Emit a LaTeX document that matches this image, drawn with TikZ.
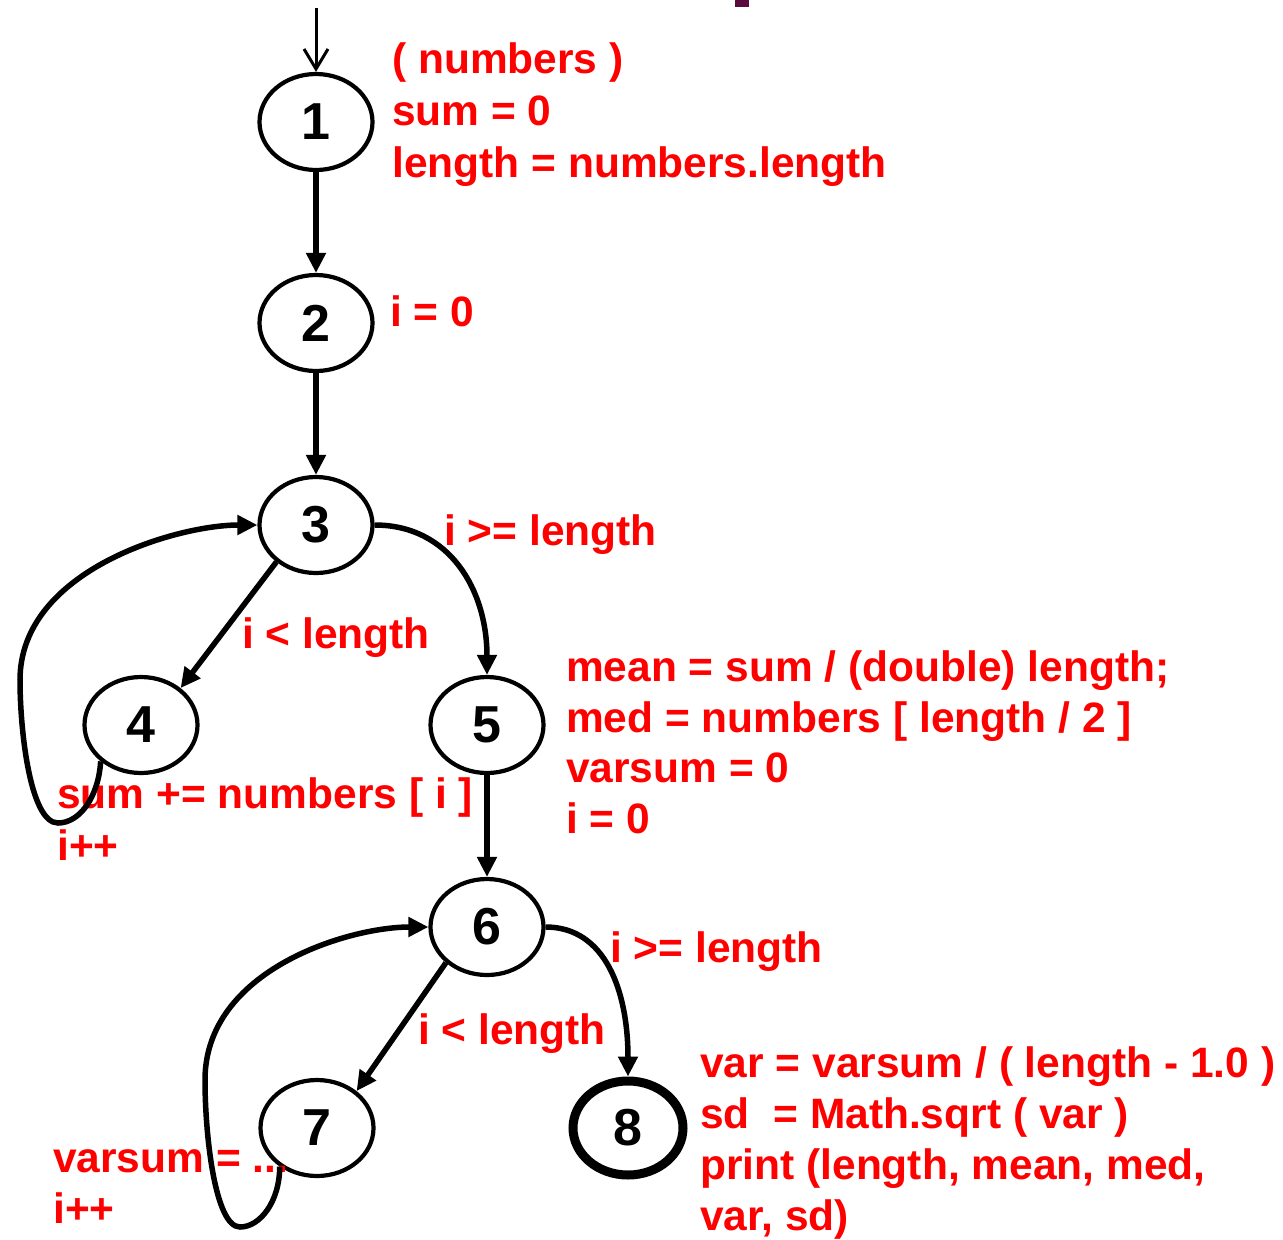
\documentclass[tikz,border=0pt]{standalone}
\usepackage{fontspec}
\setmainfont{Liberation Sans}
\usetikzlibrary{arrows.meta,shapes.geometric}
\definecolor{lblred}{RGB}{255,0,0}
\definecolor{markpurple}{RGB}{90,10,60}
\begin{document}
\begin{tikzpicture}[x=1pt,y=-1pt,
  state/.style={ellipse,draw,line width=4.2pt,minimum width=113pt,minimum height=96pt,inner sep=0pt,font=\fontsize{52}{60}\selectfont\bfseries},
  final/.style={state,line width=9pt,minimum width=110pt,minimum height=94pt},
  lbl/.style={text=lblred,font=\fontsize{42.5}{51}\selectfont\bfseries,anchor=base west,inner sep=0pt},
  flow/.style={draw,line width=5.5pt,-{Triangle[length=20pt,width=19pt]}},
  entry/.style={draw,line width=3pt,-{Straight Barb[length=20pt,width=24pt]}}]
\useasboundingbox (0,0) rectangle (1283,1240);
\fill[markpurple] (735,0) rectangle (749,7);

% nodes
\node[state] (n1) at (316,122) {1};
\node[state] (n2) at (316,323) {2};
\node[state] (n3) at (316,525) {3};
\node[state] (n4) at (141,725) {4};
\node[state] (n5) at (487,725) {5};
\node[state] (n6) at (487,927) {6};
\node[state] (n7) at (317,1128) {7};
\node[final] (n8) at (628,1128) {8};

% labels
\node[lbl] (t1a) at (392,73) {( numbers )};
\node[lbl] (t1b) at (392,125) {sum = 0};
\node[lbl] (t1c) at (392,177) {length = numbers.length};
\node[lbl] (t2) at (390,326) {i = 0};
\node[lbl] (e35) at (444,545) {i >= length};
\node[lbl] (e34) at (242,648) {i < length};
\node[lbl] (t5a) at (566,681) {mean = sum / (double) length;};
\node[lbl] (t5b) at (566,732) {med = numbers [ length / 2 ]};
\node[lbl] (t5c) at (566,782) {varsum = 0};
\node[lbl] (t5d) at (566,833) {i = 0};
\node[lbl] (t4a) at (57,808) {sum += numbers [ i ]};
\node[lbl] (t4b) at (57,860) {i++};
\node[lbl] (e68) at (610,962) {i >= length};
\node[lbl] (e67) at (418,1044) {i < length};
\node[lbl] (t8a) at (700,1077) {var = varsum / ( length - 1.0 )};
\node[lbl] (t8b) at (700,1128) {sd\ \ = Math.sqrt ( var )};
\node[lbl] (t8c) at (700,1179) {print (length, mean, med,};
\node[lbl] (t8d) at (700,1230) {var, sd)};
\node[lbl] (t7a) at (53,1172) {varsum = ...};
\node[lbl] (t7b) at (53,1223) {i++};

% connectors
\coordinate (start) at (316,8);
\coordinate (l4b) at (58,823);
\coordinate (l4l) at (20,680);
\coordinate (l7b) at (240,1227);
\coordinate (l7l) at (205,1080);

\draw[entry] (start) -- (n1.north);
\draw[flow] (n1) -- (n2);
\draw[flow] (n2) -- (n3);
\draw[flow] (n3.223) -- (n4.43);
\draw[flow] (n3.east) .. controls +(75,0) and +(0,-85) .. (n5.north);
\draw[flow] (n4.222) .. controls +(-2,35) and +(22,0) .. (l4b)
  .. controls +(-28,0) and +(0,50) .. (l4l)
  .. controls +(0,-110) and +(-80,0) .. (n3.west);
\draw[flow] (n5) -- (n6);
\draw[flow] (n6.221) -- (n7.43);
\draw[flow] (n6.east) .. controls +(60,0) and +(0,-85) .. (n8.north);
\draw[flow] (n7.226) .. controls +(0,35) and +(20,0) .. (l7b)
  .. controls +(-25,0) and +(0,55) .. (l7l)
  .. controls +(0,-110) and +(-80,0) .. (n6.west);
\end{tikzpicture}
\end{document}
